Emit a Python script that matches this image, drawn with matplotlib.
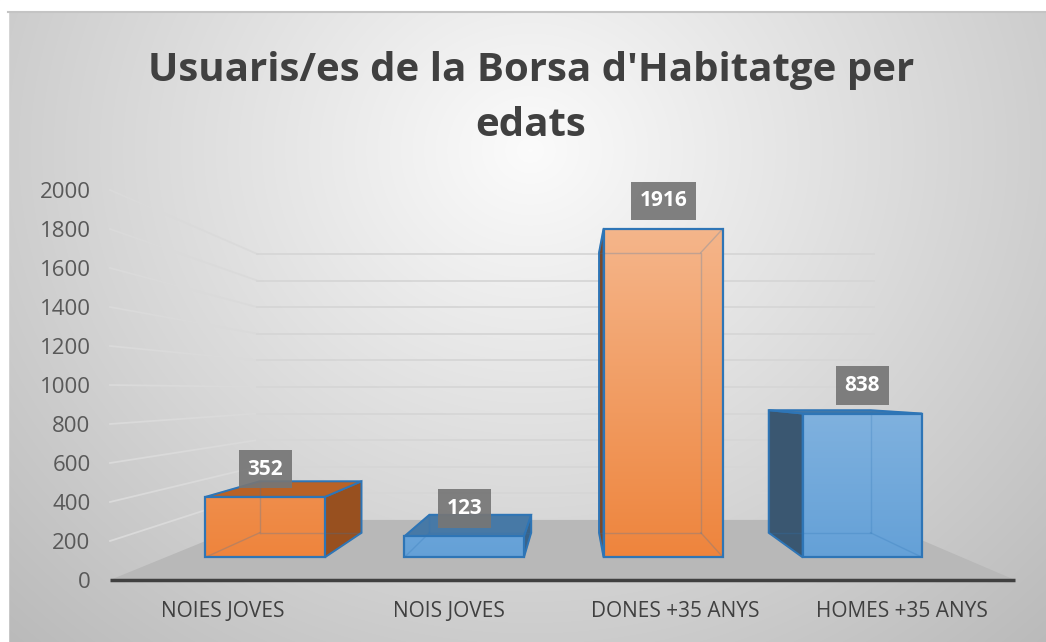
import numpy as np
import matplotlib.pyplot as plt
from matplotlib.patches import Polygon, Rectangle
from matplotlib.colors import to_rgb

# data
categories = ["NOIES JOVES", "NOIS JOVES", "DONES +35 ANYS", "HOMES +35 ANYS"]
values = [352, 123, 1916, 838]
y_ticks = list(range(0, 2001, 200))
title_lines = ["Usuaris/es de la Borsa d'Habitatge per", "edats"]

bar_colors = ["#ED7D31", "#5B9BD5", "#ED7D31", "#5B9BD5"]
edge_color = "#2E75B6"

plt.rcParams["font.family"] = ["Open Sans", "DejaVu Sans"]

W, H = 1046, 642
fig = plt.figure(figsize=(W / 100, H / 100), dpi=100)

# background with radial gradient (chart area)
bg = fig.add_axes([0, 0, 1, 1])
bg.set_xlim(0, W)
bg.set_ylim(H, 0)
bg.axis("off")
yy, xx = np.mgrid[0:H, 0:W]
r = np.sqrt(((xx - 530) / 620) ** 2 + ((yy - 150) / 560) ** 2)
g = np.clip(0.985 - 0.21 * r, 0, 1)
bg.imshow(np.dstack([g, g, g]), extent=(0, W, H, 0), aspect="auto", zorder=0)
bg.add_patch(Rectangle((0, 0), W, 11, color="white", zorder=1))
bg.add_patch(Rectangle((0, 0), 8, H, color="white", zorder=1))
bg.plot([8, W], [11.5, 11.5], color="#c4c4c4", lw=1.5, zorder=2)

# front plane of the plot: 0 at y=580px, 2000 at y=190px
x0, x1, y0, y1 = 110, 1015, 580, 190
ax = fig.add_axes([x0 / W, (H - y0) / H, (x1 - x0) / W, (y0 - y1) / H])
ax.set_xlim(-0.5, 3.5)
ax.set_ylim(0, 2000)
ax.patch.set_visible(False)
for sp in ax.spines.values():
    sp.set_visible(False)

# simple perspective: shrink toward a vanishing point with depth factor s
vp = (1.546, 969)


def proj(x, v, s):
    return (vp[0] + (x - vp[0]) * s, vp[1] + (v - vp[1]) * s)


S_WALL, S_B, S_F = 0.682, 0.75, 0.88
half = 0.3

# gridlines on side wall and back wall
for t in y_ticks[1:]:
    a = proj(-0.5, t, 1.0)
    b = proj(-0.5, t, S_WALL)
    c = proj(3.5, t, S_WALL)
    ax.plot([a[0], b[0]], [a[1], b[1]], color="#dadada", lw=1.3, zorder=1, clip_on=False)
    ax.plot([b[0], c[0]], [b[1], c[1]], color="#d6d6d6", lw=1.3, zorder=1, clip_on=False)

# floor
floor = [proj(-0.5, 0, 1.0), proj(3.5, 0, 1.0), proj(3.5, 0, S_WALL), proj(-0.5, 0, S_WALL)]
ax.add_patch(Polygon(floor, closed=True, fc="#b8b8b8", ec="none", zorder=2, clip_on=False))
ax.plot([-0.5, 3.5], [0, 0], color="#404040", lw=2.5, zorder=6, clip_on=False,
        solid_capstyle="butt")


def shade(col, f, gray=0.0):
    return tuple(np.array(to_rgb(col)) * f + gray * (1 - f))


def tint(col, f):
    c = np.array(to_rgb(col))
    return tuple(c + (1 - c) * f)


for i, (v, col) in enumerate(zip(values, bar_colors)):
    xl, xr = i - half, i + half
    z = 3 + i * 0.1
    # side face
    right_side = xr < vp[0]
    xs = xr if right_side else xl
    side = [proj(xs, 0, S_F), proj(xs, v, S_F), proj(xs, v, S_B), proj(xs, 0, S_B)]
    side_col = shade(col, 0.64) if right_side else shade(col, 0.45, 0.12)
    ax.add_patch(Polygon(side, closed=True, fc=side_col,
                         ec=edge_color, lw=1.4, zorder=z, clip_on=False))
    # top face
    if v < vp[1]:
        top = [proj(xl, v, S_F), proj(xr, v, S_F), proj(xr, v, S_B), proj(xl, v, S_B)]
        ax.add_patch(Polygon(top, closed=True, fc=shade(col, 0.78),
                             ec=edge_color, lw=1.4, zorder=z, clip_on=False))
    # front face with vertical gradient
    front = [proj(xl, 0, S_F), proj(xr, 0, S_F), proj(xr, v, S_F), proj(xl, v, S_F)]
    fp = Polygon(front, closed=True, fc="none", ec=edge_color, lw=1.6,
                 zorder=z + 0.05, clip_on=False)
    ax.add_patch(fp)
    tt = np.linspace(0, 1, 256)
    grad = np.array([tint(col, 0.03 + 0.45 * t) for t in tt])[:, None, :]
    im = ax.imshow(grad, extent=(front[0][0], front[1][0], 0, 2000), origin="lower",
                   aspect="auto", zorder=z + 0.01)
    im.set_clip_path(fp)
    # hidden back edges seen through the bar
    back = [proj(xl, 0, S_B), proj(xr, 0, S_B), proj(xr, v, S_B), proj(xl, v, S_B)]
    bx = [p[0] for p in back] + [back[0][0]]
    by = [p[1] for p in back] + [back[0][1]]
    ax.plot(bx, by, color=edge_color, lw=1.0, alpha=0.25, zorder=z + 0.02, clip_on=False)
    for (fx, fy), (kx, ky) in zip(front, back):
        ax.plot([fx, kx], [fy, ky], color=edge_color, lw=1.0, alpha=0.25,
                zorder=z + 0.02, clip_on=False)
    # data label
    ax.annotate(f"{v}", xy=proj(i, v, S_F), xytext=(0, 20), textcoords="offset points",
                ha="center", va="center", color="white", fontsize=15, fontweight="bold",
                zorder=10,
                bbox=dict(boxstyle="square,pad=0.42", fc="#767676", ec="none", alpha=0.92))

ax.set_xlim(-0.5, 3.5)
ax.set_ylim(0, 2000)
ax.set_yticks(y_ticks)
ax.set_xticks(range(len(categories)), categories)
ax.tick_params(axis="y", length=0, pad=14, labelsize=16, labelcolor="#595959")
ax.tick_params(axis="x", length=0, pad=15, labelsize=15, labelcolor="#404040")

# title
fig.text(531 / W, 1 - 70 / H, title_lines[0], ha="center", va="center",
         fontsize=29, fontweight="bold", color="#404040")
fig.text(531 / W, 1 - 125 / H, title_lines[1], ha="center", va="center",
         fontsize=29, fontweight="bold", color="#404040")

fig.savefig("out.png", dpi=100)
